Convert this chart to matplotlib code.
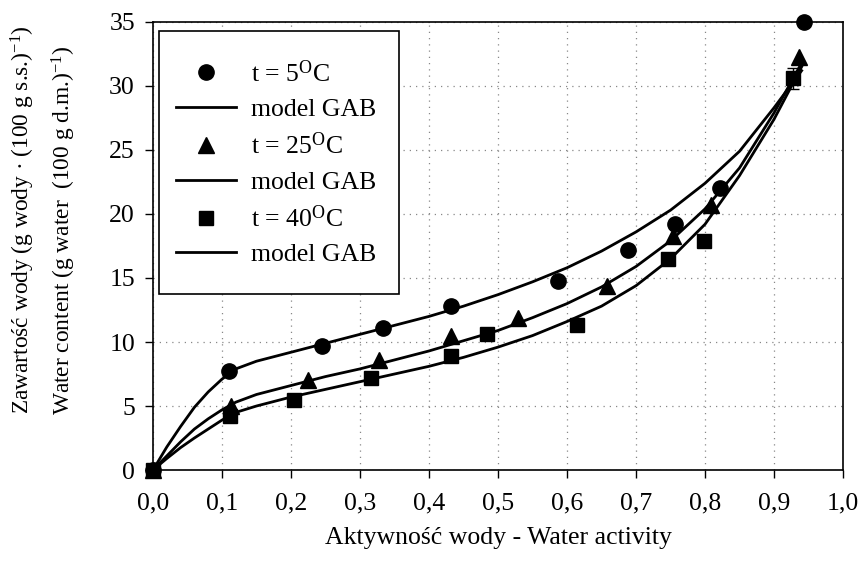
import matplotlib
matplotlib.use("Agg")
import matplotlib.pyplot as plt
from matplotlib.lines import Line2D
from matplotlib.patches import Rectangle
from matplotlib.ticker import FixedLocator, FixedFormatter

plt.rcParams['font.family'] = ['Liberation Serif', 'DejaVu Serif']
plt.rcParams['mathtext.fontset'] = 'custom'
plt.rcParams['mathtext.rm'] = 'Liberation Serif'
plt.rcParams['mathtext.it'] = 'Liberation Serif:italic'

# measured points
aw_5 = [0.0, 0.110, 0.245, 0.333, 0.432, 0.587, 0.688, 0.756, 0.822, 0.943]
m_5 = [0.0, 7.7, 9.7, 11.1, 12.8, 14.8, 17.2, 19.2, 22.0, 35.0]
aw_25 = [0.0, 0.113, 0.225, 0.328, 0.432, 0.529, 0.658, 0.753, 0.809, 0.936]
m_25 = [0.0, 5.0, 7.0, 8.6, 10.5, 11.9, 14.4, 18.3, 20.7, 32.3]
aw_40 = [0.0, 0.112, 0.205, 0.316, 0.432, 0.484, 0.614, 0.747, 0.798, 0.928]
m_40 = [0.0, 4.2, 5.5, 7.2, 8.9, 10.6, 11.3, 16.5, 17.9, 30.6]
err_40 = [0, 0, 0, 0, 0, 0, 0, 0, 0, 0.8]

# GAB model curves
aw_model = [0.0, 0.02, 0.04, 0.06, 0.08, 0.10, 0.12, 0.15, 0.20, 0.25, 0.30, 0.35,
            0.40, 0.45, 0.50, 0.55, 0.60, 0.65, 0.70, 0.75, 0.80, 0.85, 0.90, 0.94]
gab_5 = [0.0, 1.8, 3.4, 4.9, 6.1, 7.1, 7.9, 8.5, 9.2, 9.9, 10.6, 11.3,
         12.0, 12.8, 13.7, 14.7, 15.8, 17.1, 18.6, 20.3, 22.4, 24.9, 28.3, 31.2]
gab_25 = [0.0, 1.1, 2.2, 3.2, 4.0, 4.7, 5.3, 5.9, 6.6, 7.3, 7.9, 8.6,
          9.3, 10.1, 10.9, 11.9, 13.0, 14.3, 15.9, 17.9, 20.4, 23.6, 27.9, 31.8]
gab_40 = [0.0, 0.9, 1.75, 2.5, 3.2, 3.9, 4.5, 5.0, 5.7, 6.3, 6.9, 7.5,
          8.1, 8.8, 9.6, 10.5, 11.6, 12.8, 14.4, 16.5, 19.2, 23.0, 27.4, 31.5]

x_ticks = [0.0, 0.1, 0.2, 0.3, 0.4, 0.5, 0.6, 0.7, 0.8, 0.9, 1.0]
x_ticklabels = ['0,0', '0,1', '0,2', '0,3', '0,4', '0,5', '0,6', '0,7', '0,8', '0,9', '1,0']
y_ticks = [0, 5, 10, 15, 20, 25, 30, 35]
y_ticklabels = ['0', '5', '10', '15', '20', '25', '30', '35']

legend_labels = ['t = 5$^{\\mathrm{O}}$C', 'model GAB', 't = 25$^{\\mathrm{O}}$C',
                 'model GAB', 't = 40$^{\\mathrm{O}}$C', 'model GAB']

fig = plt.figure(figsize=(8.62, 5.61), dpi=100)
ax = fig.add_axes([0.1775, 0.1622, 0.8005, 0.7986])

lw = 2.0
ax.plot(aw_model, gab_5, color='black', lw=lw, zorder=3)
ax.plot(aw_model, gab_25, color='black', lw=lw, zorder=3)
ax.plot(aw_model, gab_40, color='black', lw=lw, zorder=3)

ax.plot(aw_5, m_5, 'o', color='black', ms=11, clip_on=False, zorder=4)
ax.plot(aw_25, m_25, '^', color='black', ms=11, clip_on=False, zorder=4)
ax.errorbar(aw_40, m_40, yerr=err_40, fmt='s', color='black', ms=10,
            capsize=4, elinewidth=1, clip_on=False, zorder=4)

ax.set_xlim(0, 1.0)
ax.set_ylim(0, 35)
ax.xaxis.set_major_locator(FixedLocator(x_ticks))
ax.xaxis.set_major_formatter(FixedFormatter(x_ticklabels))
ax.yaxis.set_major_locator(FixedLocator(y_ticks))
ax.yaxis.set_major_formatter(FixedFormatter(y_ticklabels))
ax.tick_params(axis='both', direction='out', length=6, width=1, labelsize=18.5,
               color='black', pad=7)
ax.tick_params(axis='x', pad=10)
ax.tick_params(top=False, right=False)
ax.grid(True, linestyle=(0, (1, 4)), color='#888888', linewidth=0.9)
ax.set_axisbelow(True)
for s in ax.spines.values():
    s.set_linewidth(1.2)
    s.set_color('black')

ax.set_xlabel('Aktywność wody - Water activity', fontsize=18.5, labelpad=9)

fig.text(23 / 862, 1 - 220 / 561,
         'Zawartość wody (g wody · (100 g s.s.)$^{-1}$)',
         rotation=90, ha='center', va='center', fontsize=16.8)
fig.text(64 / 862, 1 - 230 / 561,
         'Water content (g water  (100 g d.m.)$^{-1}$)',
         rotation=90, ha='center', va='center', fontsize=16.8)

# legend frame
x0 = (159 - 153) / 690
x1 = (399 - 153) / 690
y0 = (470 - 294) / 448
y1 = (470 - 31) / 448
frame = Rectangle((x0, y0), x1 - x0, y1 - y0, transform=ax.transAxes,
                  facecolor='white', edgecolor='black', linewidth=1.2,
                  zorder=4.5, clip_on=False)
ax.add_patch(frame)

handles = [
    Line2D([], [], marker='o', ls='none', color='black', ms=11),
    Line2D([], [], color='black', lw=lw),
    Line2D([], [], marker='^', ls='none', color='black', ms=11),
    Line2D([], [], color='black', lw=lw),
    Line2D([], [], marker='s', ls='none', color='black', ms=10),
    Line2D([], [], color='black', lw=lw),
]
leg = ax.legend(handles, legend_labels, loc='upper left',
                bbox_to_anchor=((176 - 153) / 690, (470 - 60) / 448),
                borderaxespad=0, borderpad=0, fontsize=18.5, frameon=False,
                handlelength=2.35, handletextpad=0.55, labelspacing=0.45)
leg.set_zorder(5)

fig.savefig('out.png', dpi=100)
